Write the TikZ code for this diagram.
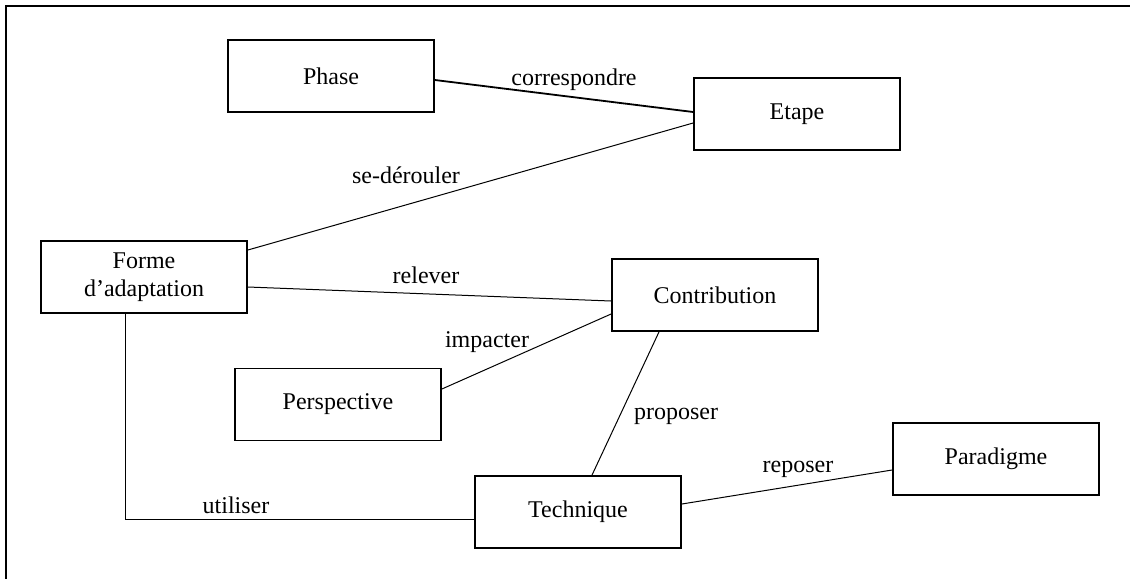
\documentclass[tikz,border=0pt]{standalone}
\usepackage{fontspec}
\setmainfont{Liberation Serif}
\tikzset{
  ent/.style={draw, line width=1.8pt, minimum width=206pt, minimum height=72pt, inner sep=0pt, font=\fontsize{24}{28}\selectfont, align=center},
  rel/.style={line width=1pt},
  lbl/.style={anchor=base, inner sep=0pt, font=\fontsize{24}{28}\selectfont}
}
\begin{document}
\begin{tikzpicture}[x=1pt, y=-1pt]
\useasboundingbox (0,0) rectangle (1130,579);
\draw[line width=2pt] (1130,6) -- (6,6) -- (6,579);
% entities
\node[ent] (phase) at (331,76) {Phase};
\node[ent] (etape) at (797,114) {Etape};
\node[ent] (forme) at (144,277) {Forme\\d’adaptation};
\node[ent] (contrib) at (715,295) {Contribution};
\node[ent] (persp) at (338,404.5) {Perspective};
\node[ent] (tech) at (578,512) {Technique};
\node[ent] (parad) at (996,459) {Paradigme};
% connectors
\draw[line width=1.8pt] ([yshift=-4pt]phase.east) -- ([yshift=2pt]etape.west);
\draw[rel] ([yshift=27pt]forme.east) -- ([yshift=-9pt]etape.west);
\draw[rel] ([yshift=-10pt]forme.east) -- ([yshift=-6pt]contrib.west);
\draw[rel] ([yshift=15.5pt]persp.east) -- ([yshift=-19pt]contrib.west);
\draw[rel] ([xshift=-56pt]contrib.south) -- ([xshift=14pt]tech.north);
\draw[rel] ([yshift=8pt]tech.east) -- ([yshift=-11pt]parad.west);
\draw[rel] ([xshift=-19pt]forme.south) |- ([yshift=-7pt]tech.west);
% labels
\node[lbl] (lcorr) at (574,85) {correspondre};
\node[lbl] (lsed) at (406,183) {se-dérouler};
\node[lbl] (lrel) at (426,283) {relever};
\node[lbl] (limp) at (487,347) {impacter};
\node[lbl] (lprop) at (676,419) {proposer};
\node[lbl] (lrep) at (798,472) {reposer};
\node[lbl] (luti) at (236,513) {utiliser};
\end{tikzpicture}
\end{document}
